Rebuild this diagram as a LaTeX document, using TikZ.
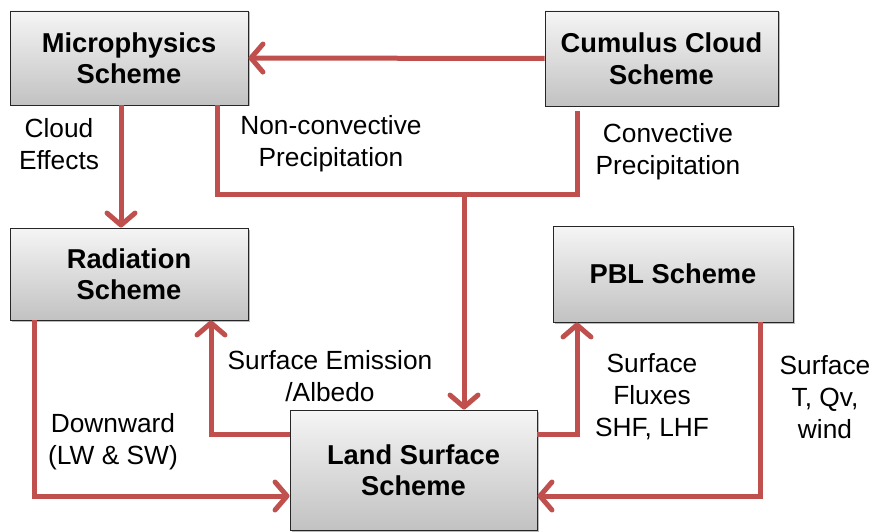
\documentclass[tikz,border=0pt]{standalone}
\usepackage{fontspec}
\setmainfont{Liberation Sans}
\usetikzlibrary{arrows.meta,shadows,calc}
\definecolor{arrred}{HTML}{C0504D}
\definecolor{boxtop}{HTML}{F5F5F5}
\definecolor{boxbot}{HTML}{C2C2C2}
\begin{document}
\begin{tikzpicture}[x=1pt,y=-1pt,
  schemebox/.style={draw=black!85, line width=0.9pt, top color=boxtop, bottom color=boxbot,
    inner sep=0pt, align=center, font=\fontsize{27.3}{31.5}\selectfont\bfseries,
    drop shadow={shadow xshift=1.5pt, shadow yshift=-1.5pt, fill=black!60, opacity=0.45}},
  lbl/.style={align=center, inner sep=0pt, font=\fontsize{26.3}{32}\selectfont},
  conn/.style={draw=arrred, line width=5pt, line join=miter},
  arr/.style={conn, -{Straight Barb[length=12pt,width=28pt,round]}}
]
\useasboundingbox (0,0) rectangle (873,532);
\fill[white] (0,0) rectangle (873,532);

% boxes
\node[schemebox, minimum width=238pt, minimum height=94pt] (mp) at (129,58) {Microphysics\\Scheme};
\node[schemebox, minimum width=233pt, minimum height=95pt] (cc) at (661.5,58.5) {Cumulus Cloud\\Scheme};
\node[schemebox, minimum width=238pt, minimum height=92pt] (rad) at (129,274) {Radiation\\Scheme};
\node[schemebox, minimum width=240pt, minimum height=96pt] (pbl) at (673,274) {PBL Scheme};
\node[schemebox, minimum width=247pt, minimum height=120pt] (ls) at (413.5,470) {Land Surface\\Scheme};

% helper coordinates
\coordinate (xa) at (121,0);
\coordinate (xb) at (217,0);
\coordinate (xc) at (577,0);
\coordinate (jn) at (464,194);
\coordinate (xd) at (34,0);
\coordinate (xe) at (211,0);
\coordinate (xf) at (577,0);
\coordinate (xg) at (760,0);
\coordinate (ye) at (0,434);
\coordinate (yl) at (0,496);

% connectors
\draw[arr] (cc.west) -- (mp.east);
\draw[arr] (mp.south -| xa) -- (rad.north -| xa);
\draw[conn] (mp.south -| xb) |- (jn) -| ([yshift=-5pt]cc.south -| xc);
\draw[arr] (jn) -- (ls.north -| jn);
\draw[arr] (rad.south -| xd) |- (ls.west |- yl);
\draw[arr] (ls.west |- ye) -| (rad.south -| xe);
\draw[arr] (ls.east |- ye) -| (pbl.south -| xf);
\draw[arr] (pbl.south -| xg) |- (ls.east |- yl);

% labels
\node[lbl] (l1) at (59,144) {Cloud\\Effects};
\node[lbl] (l2) at (331,144) {Non-convective\\Precipitation};
\node[lbl] (l3) at (668,152) {Convective\\Precipitation};
\node[lbl] (l4) at (113,442) {Downward\\(LW \& SW)};
\node[lbl] (l5) at (330,376) {Surface Emission\\/Albedo};
\node[lbl] (l6) at (652,397) {Surface\\Fluxes\\SHF, LHF};
\node[lbl] (l7) at (825,397) {Surface\\T, Qv,\\wind};
\end{tikzpicture}
\end{document}
